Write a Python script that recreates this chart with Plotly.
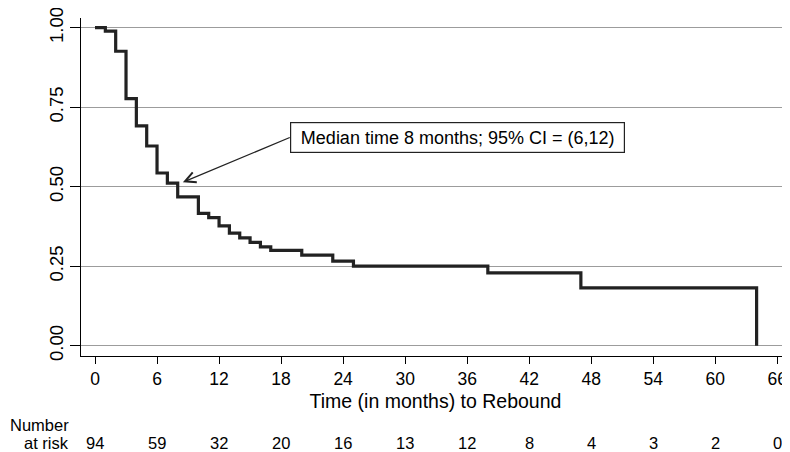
import plotly.graph_objects as go

# Kaplan-Meier step data (months, survival proportion)
times = [0, 1, 2, 3, 4, 5, 6, 7, 8, 10, 11, 12, 13, 14, 15, 16, 17, 20, 23, 25, 38, 47, 64]
surv = [1.0, 0.989, 0.926, 0.777, 0.691, 0.628, 0.543, 0.511, 0.468, 0.416, 0.403,
        0.377, 0.354, 0.339, 0.325, 0.311, 0.300, 0.285, 0.266, 0.250, 0.229, 0.182, 0.0]

# Number at risk table
risk_times = [0, 6, 12, 18, 24, 30, 36, 42, 48, 54, 60, 66]
risk_counts = [94, 59, 32, 20, 16, 13, 12, 8, 4, 3, 2, 0]

y_ticks = [0.0, 0.25, 0.5, 0.75, 1.0]
y_ticklabels = ["0.00", "0.25", "0.50", "0.75", "1.00"]
x_ticks = [0, 6, 12, 18, 24, 30, 36, 42, 48, 54, 60, 66]

x_title = "Time (in months) to Rebound"
note_text = "Median time 8 months; 95% CI = (6,12)"
median_time = 8.5
median_surv = 0.514

FONT = "Arial, Liberation Sans, sans-serif"

fig = go.Figure()
fig.add_trace(go.Scatter(
    x=times, y=surv, mode="lines", line=dict(shape="hv", color="#222222", width=3.2),
    showlegend=False, hoverinfo="skip"))

# page body adds an 8px margin, so the figure is 8px smaller on each axis
fig.update_layout(
    width=782, height=444,
    margin=dict(l=73, r=0, t=10, b=96),
    paper_bgcolor="white", plot_bgcolor="white",
    font=dict(family=FONT, color="black"),
    showlegend=False,
)

fig.update_xaxes(
    range=[-1.355, 67.23], tickvals=x_ticks, ticktext=[str(v) for v in x_ticks],
    showgrid=False, zeroline=False, showline=True, linecolor="black", linewidth=1.2,
    ticks="outside", ticklen=7, tickwidth=1.2, tickcolor="black",
    tickfont=dict(size=17.5, family=FONT, color="black"), ticklabeloverflow="allow",
    title=dict(text=x_title, font=dict(size=19.5, family=FONT, color="black"), standoff=6),
)
fig.update_yaxes(
    range=[-0.0324, 1.0305], tickvals=y_ticks, ticktext=y_ticklabels, tickangle=-90,
    showgrid=True, gridcolor="#9c9c9c", gridwidth=1.2, zeroline=False,
    showline=True, linecolor="black", linewidth=1.2,
    ticks="outside", ticklen=10, tickwidth=1.2, tickcolor="black",
    tickfont=dict(size=18.5, family=FONT, color="black"), ticklabeloverflow="allow",
)

# median annotation with arrow
fig.add_annotation(
    x=median_time, y=median_surv, xref="x", yref="y",
    ax=18.84, ay=0.6547, axref="x", ayref="y",
    text=note_text, showarrow=True, arrowhead=5, arrowsize=1.6, arrowwidth=1.3,
    arrowcolor="#222222", xanchor="left", yanchor="middle",
    font=dict(size=18, family=FONT, color="black"),
    bgcolor="white", bordercolor="#222222", borderwidth=1.2, borderpad=3,
    width=327, height=23, align="center",
)

# number at risk table
row_y = -0.256
for t, n in zip(risk_times, risk_counts):
    fig.add_annotation(x=t, y=row_y, xref="x", yref="paper", text=str(n),
                       showarrow=False, xanchor="center", yanchor="middle",
                       font=dict(size=16.5, family=FONT, color="black"))
fig.add_annotation(x=-0.0136, y=-0.205, xref="paper", yref="paper", text="Number",
                   showarrow=False, xanchor="right", yanchor="middle",
                   font=dict(size=16.5, family=FONT, color="black"))
fig.add_annotation(x=-0.0136, y=row_y, xref="paper", yref="paper", text="at risk",
                   showarrow=False, xanchor="right", yanchor="middle",
                   font=dict(size=16.5, family=FONT, color="black"))

fig.write_html("out.html")
